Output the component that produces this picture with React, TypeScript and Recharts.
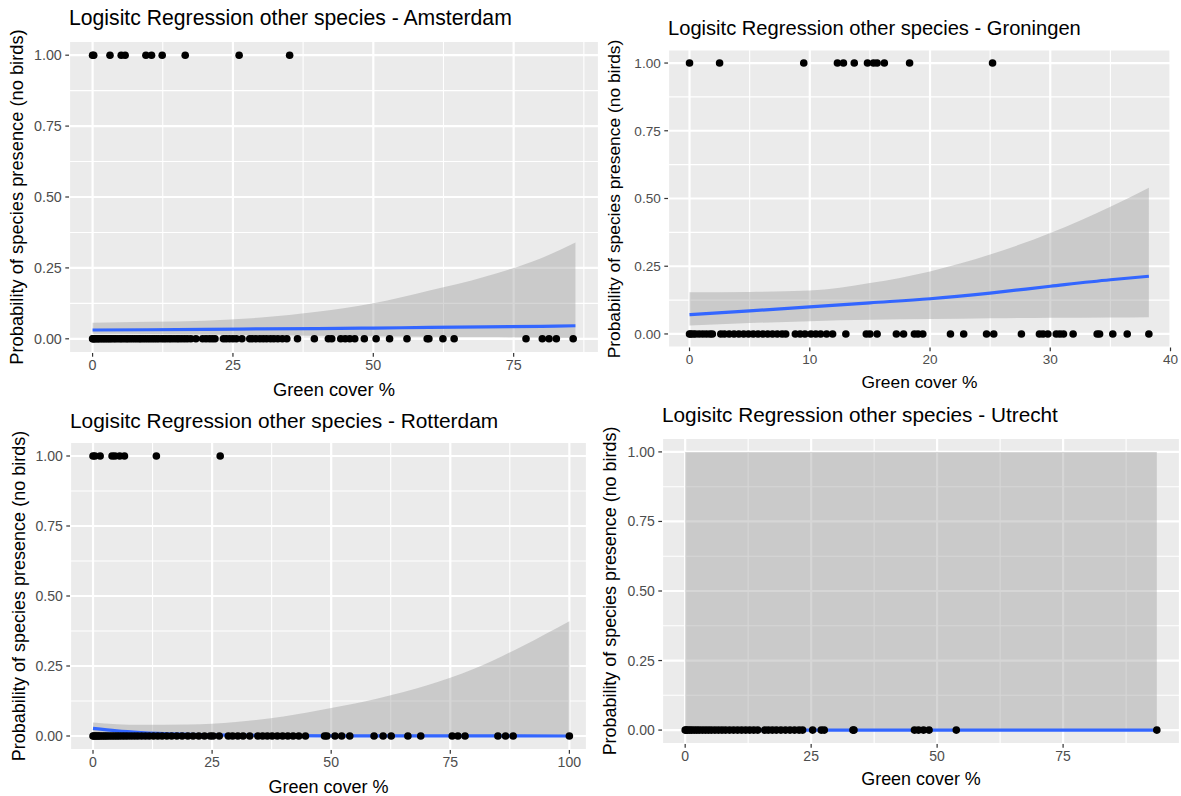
import React from 'react'
import {
  ComposedChart, Scatter, Line, Area, XAxis, YAxis, CartesianGrid,
} from 'recharts'

// ---- data ----

// Amsterdam
const amsPresent = [0, 0.2, 3.1, 5.1, 5.8, 9.5, 10.5, 12.4, 16.5, 26.1, 35.1]
const amsAbsent = [
  0, 0.1, 0.3, 0.5, 0.8, 1.0, 1.3, 1.6, 1.9, 2.2, 2.5, 2.8, 3.1, 3.4, 3.8, 4.1, 4.5, 4.9,
  5.2, 5.6, 6.0, 6.3, 6.7, 7.1, 7.5, 7.9, 8.3, 8.6, 9.0, 9.4, 9.8, 10.2, 10.6, 11.0, 11.4,
  11.8, 12.3, 12.7, 13.1, 13.6, 14.0, 14.5, 15.0, 15.4, 15.9, 16.4, 16.9, 17.5, 18.4, 19.6,
  20.2, 20.8, 21.3, 21.8, 23.3, 23.8, 24.4, 25.0, 25.6, 26.6, 28.0, 28.5, 29.1, 29.8, 30.4,
  31.0, 31.7, 32.3, 33.0, 33.8, 34.6, 36.5, 39.5, 42.0, 42.6, 44.2, 45.0, 45.8, 46.7, 48.4,
  50.5, 52.9, 56.0, 59.6, 59.9, 62.4, 64.4, 77.2, 80.1, 81.3, 82.6, 85.6,
]
const amsFitX = [0, 10, 20, 30, 40, 50, 60, 70, 80, 86]
const amsFit = [0.031, 0.032, 0.033, 0.035, 0.036, 0.038, 0.040, 0.042, 0.044, 0.046]
const amsLo = [0.018, 0.017, 0.015, 0.013, 0.011, 0.009, 0.007, 0.006, 0.005, 0.004]
const amsHi = [0.057, 0.060, 0.064, 0.075, 0.095, 0.125, 0.170, 0.220, 0.285, 0.340]

// Groningen
const groPresent = [0, 2.5, 9.5, 12.3, 12.8, 13.7, 14.8, 15.3, 15.6, 16.2, 18.3, 25.2]
const groAbsent = [
  0, 0.1, 0.3, 0.5, 0.8, 1.1, 1.4, 1.7, 1.9, 2.6, 2.9, 3.3, 3.7, 4.1, 4.5, 4.9, 5.3, 5.7,
  6.1, 6.5, 6.9, 7.3, 7.7, 8.0, 8.8, 9.2, 9.6, 10.1, 10.5, 10.9, 11.4, 11.9, 13.0, 14.7,
  15.0, 15.6, 17.2, 17.8, 18.7, 19.0, 19.4, 21.7, 22.8, 24.7, 25.3, 27.6, 29.1, 29.4, 29.8,
  30.5, 30.8, 31.1, 31.9, 33.9, 34.1, 35.2, 36.4, 38.2,
]
const groFitX = [0, 5, 10, 15, 20, 25, 30, 35, 38.2]
const groFit = [0.071, 0.085, 0.100, 0.115, 0.130, 0.151, 0.176, 0.200, 0.213]
const groLo = [0.031, 0.040, 0.047, 0.052, 0.055, 0.058, 0.060, 0.061, 0.062]
const groHi = [0.154, 0.155, 0.160, 0.188, 0.231, 0.293, 0.373, 0.470, 0.540]

// Rotterdam
const rotPresent = [0, 0.4, 1.5, 4.0, 4.6, 5.6, 6.6, 13.3, 26.7]
const rotAbsent = [
  0, 0.2, 0.5, 0.8, 1.1, 1.4, 1.8, 2.2, 2.6, 3.0, 3.5, 4.0, 4.5, 5.0, 5.5, 6.1, 6.7, 7.3,
  8.0, 8.7, 9.4, 10.2, 11.0, 11.8, 12.7, 13.6, 14.5, 15.5, 16.5, 17.6, 18.7, 19.9, 21.0,
  22.2, 23.4, 24.6, 25.2, 26.5, 28.4, 29.3, 30.4, 31.5, 32.9, 34.6, 35.6, 36.6, 37.6, 38.7,
  39.8, 40.9, 42.0, 43.2, 44.6, 48.6, 49.1, 50.8, 52.2, 53.9, 59.0, 60.9, 62.6, 66.1, 68.8,
  75.4, 76.6, 78.1, 85.0, 86.6, 88.2, 100,
]
const rotFitX = [0, 5, 10, 20, 30, 40, 50, 60, 70, 80, 90, 100]
const rotFit = [0.027, 0.018, 0.012, 0.006, 0.003, 0.0015, 0.0008, 0.0004, 0.0002, 0.0001, 0.0001, 0]
const rotLo = [0.015, 0.008, 0.004, 0.001, 0, 0, 0, 0, 0, 0, 0, 0]
const rotHi = [0.048, 0.042, 0.040, 0.041, 0.050, 0.070, 0.100, 0.135, 0.180, 0.240, 0.320, 0.410]

// Utrecht
const utrPresent: number[] = []
const utrAbsent = [
  0, 0.2, 0.5, 0.9, 1.3, 1.8, 2.3, 2.8, 3.4, 4.0, 4.6, 5.2, 5.9, 6.6, 7.3, 8.0, 8.8, 9.6,
  10.4, 11.2, 12.0, 12.8, 13.6, 14.4, 15.8, 16.5, 17.3, 18.1, 19.0, 19.9, 20.8, 21.7, 22.6,
  23.3, 25.3, 27.0, 27.6, 33.3, 33.5, 45.5, 46.3, 47.3, 48.4, 53.8, 93.6,
]
const utrFitX = [0, 93.6]
const utrFit = [0, 0]
const utrLo = [0, 0]
const utrHi = [1, 1]

const yTicks = [0, 0.25, 0.5, 0.75, 1]
const yMinor = [0.125, 0.375, 0.625, 0.875]

// ---- layout ----

const FONT = '"Liberation Sans", Arial, Helvetica, sans-serif'

type Box = { left: number; top: number; w: number; h: number }
type Plot = { l: number; r: number; t: number; b: number }

type PanelDef = {
  city: string
  present: number[]
  absent: number[]
  fitX: number[]
  fit: number[]
  lo: number[]
  hi: number[]
  xTicks: number[]
  xMinor: number[]
  xDomain: [number, number]
  box: Box
  plot: Plot
  titleY: number
  yTitleX: number
  xTitleY: number
  scale: number
}

const PANELS: PanelDef[] = [
  {
    city: 'Amsterdam', present: amsPresent, absent: amsAbsent,
    fitX: amsFitX, fit: amsFit, lo: amsLo, hi: amsHi,
    xTicks: [0, 25, 50, 75], xMinor: [12.5, 37.5, 62.5, 87.5], xDomain: [-4.2, 90.2],
    box: { left: 0, top: 0, w: 600, h: 400 }, plot: { l: 69, r: 599, t: 41, b: 353 },
    titleY: 17.5, yTitleX: 16.7, xTitleY: 390, scale: 1,
  },
  {
    city: 'Groningen', present: groPresent, absent: groAbsent,
    fitX: groFitX, fit: groFit, lo: groLo, hi: groHi,
    xTicks: [0, 10, 20, 30, 40], xMinor: [5, 15, 25, 35], xDomain: [-1.79, 40.04],
    box: { left: 600, top: 0, w: 581, h: 400 }, plot: { l: 668, r: 1171, t: 49.5, b: 347.5 },
    titleY: 27.5, yTitleX: 615, xTitleY: 383, scale: 0.95,
  },
  {
    city: 'Rotterdam', present: rotPresent, absent: rotAbsent,
    fitX: rotFitX, fit: rotFit, lo: rotLo, hi: rotHi,
    xTicks: [0, 25, 50, 75, 100], xMinor: [12.5, 37.5, 62.5, 87.5], xDomain: [-4.83, 103.7],
    box: { left: 0, top: 400, w: 600, h: 396 }, plot: { l: 70, r: 587, t: 442, b: 750 },
    titleY: 421, yTitleX: 19, xTitleY: 786.7, scale: 0.985,
  },
  {
    city: 'Utrecht', present: utrPresent, absent: utrAbsent,
    fitX: utrFitX, fit: utrFit, lo: utrLo, hi: utrHi,
    xTicks: [0, 25, 50, 75], xMinor: [12.5, 37.5, 62.5, 87.5], xDomain: [-4.6, 98.2],
    box: { left: 600, top: 400, w: 581, h: 396 }, plot: { l: 662, r: 1180, t: 438, b: 744 },
    titleY: 415.5, yTitleX: 611, xTitleY: 780, scale: 0.98,
  },
]

const Dot = (props: any) => <circle cx={props.cx} cy={props.cy} r={3.8} fill="#000000" />

function Panel({ p }: { p: PanelDef }) {
  const rows = p.fitX.map((x, i) => ({ x, fit: p.fit[i], band: [p.lo[i], p.hi[i]] }))
  const pts = [
    ...p.absent.map(x => ({ x, y: 0 })),
    ...p.present.map(x => ({ x, y: 1 })),
  ]
  const { box, plot, scale } = p
  const titleFs = 21.2 * scale
  const axisFs = 18.3 * scale
  const tickFs = 14.3 * scale
  const tick = { fontSize: tickFs, fontFamily: FONT, fill: '#4D4D4D' }

  return (
    <>
      <div style={{ position: 'absolute', left: box.left, top: box.top }}>
        <ComposedChart
          width={box.w} height={box.h} data={rows}
          margin={{ top: plot.t - box.top, right: box.left + box.w - plot.r, left: 0, bottom: 0 }}
        >
          {/* panel background + major grid */}
          <CartesianGrid fill="#EBEBEB" stroke="#FFFFFF" strokeWidth={2.2} />
          {/* minor grid, at the midpoints between breaks */}
          <CartesianGrid
            stroke="#FFFFFF" strokeWidth={1.1}
            horizontalValues={yMinor} verticalValues={p.xMinor}
          />
          <XAxis
            dataKey="x" type="number" domain={p.xDomain} ticks={p.xTicks} allowDataOverflow
            height={box.top + box.h - plot.b} axisLine={false}
            tickLine={{ stroke: '#333333', strokeWidth: 1.2 }} tickSize={3.7} tickMargin={3}
            tick={tick} interval={0}
          />
          <YAxis
            type="number" domain={[-0.05, 1.05]} ticks={yTicks} allowDataOverflow
            width={plot.l - box.left} axisLine={false}
            tickLine={{ stroke: '#333333', strokeWidth: 1.2 }} tickSize={3.7} tickMargin={3.5}
            tick={tick} interval={0} tickFormatter={(v: number) => v.toFixed(2)}
          />
          <Scatter data={pts} dataKey="y" shape={Dot} isAnimationActive={false} />
          <Area
            dataKey="band" type="monotone" stroke="none" fill="#999999" fillOpacity={0.4}
            isAnimationActive={false} activeDot={false}
          />
          <Line
            dataKey="fit" type="monotone" stroke="#3366FF" strokeWidth={3.2}
            dot={false} activeDot={false} isAnimationActive={false}
          />
        </ComposedChart>
      </div>

      <div style={{
        position: 'absolute', left: plot.l, top: p.titleY - 0.49 * titleFs,
        fontSize: titleFs, lineHeight: `${titleFs}px`, fontFamily: FONT, color: '#000',
        whiteSpace: 'nowrap',
      }}>
        {`Logisitc Regression other species - ${p.city}`}
      </div>

      <div style={{
        position: 'absolute', left: (plot.l + plot.r) / 2, top: p.xTitleY,
        transform: 'translate(-50%, -50%)',
        fontSize: axisFs, lineHeight: `${axisFs}px`, fontFamily: FONT, color: '#000',
        whiteSpace: 'nowrap',
      }}>
        Green cover %
      </div>

      <div style={{
        position: 'absolute', left: p.yTitleX, top: (plot.t + plot.b) / 2,
        transform: 'translate(-50%, -50%) rotate(-90deg)',
        fontSize: axisFs, lineHeight: `${axisFs}px`, fontFamily: FONT, color: '#000',
        whiteSpace: 'nowrap',
      }}>
        Probability of species presence (no birds)
      </div>
    </>
  )
}

export default function App() {
  return (
    <div style={{ position: 'fixed', left: 0, top: 0, width: 1181, height: 796, background: '#FFFFFF', overflow: 'hidden' }}>
      {PANELS.map(p => <Panel key={p.city} p={p} />)}
    </div>
  )
}
